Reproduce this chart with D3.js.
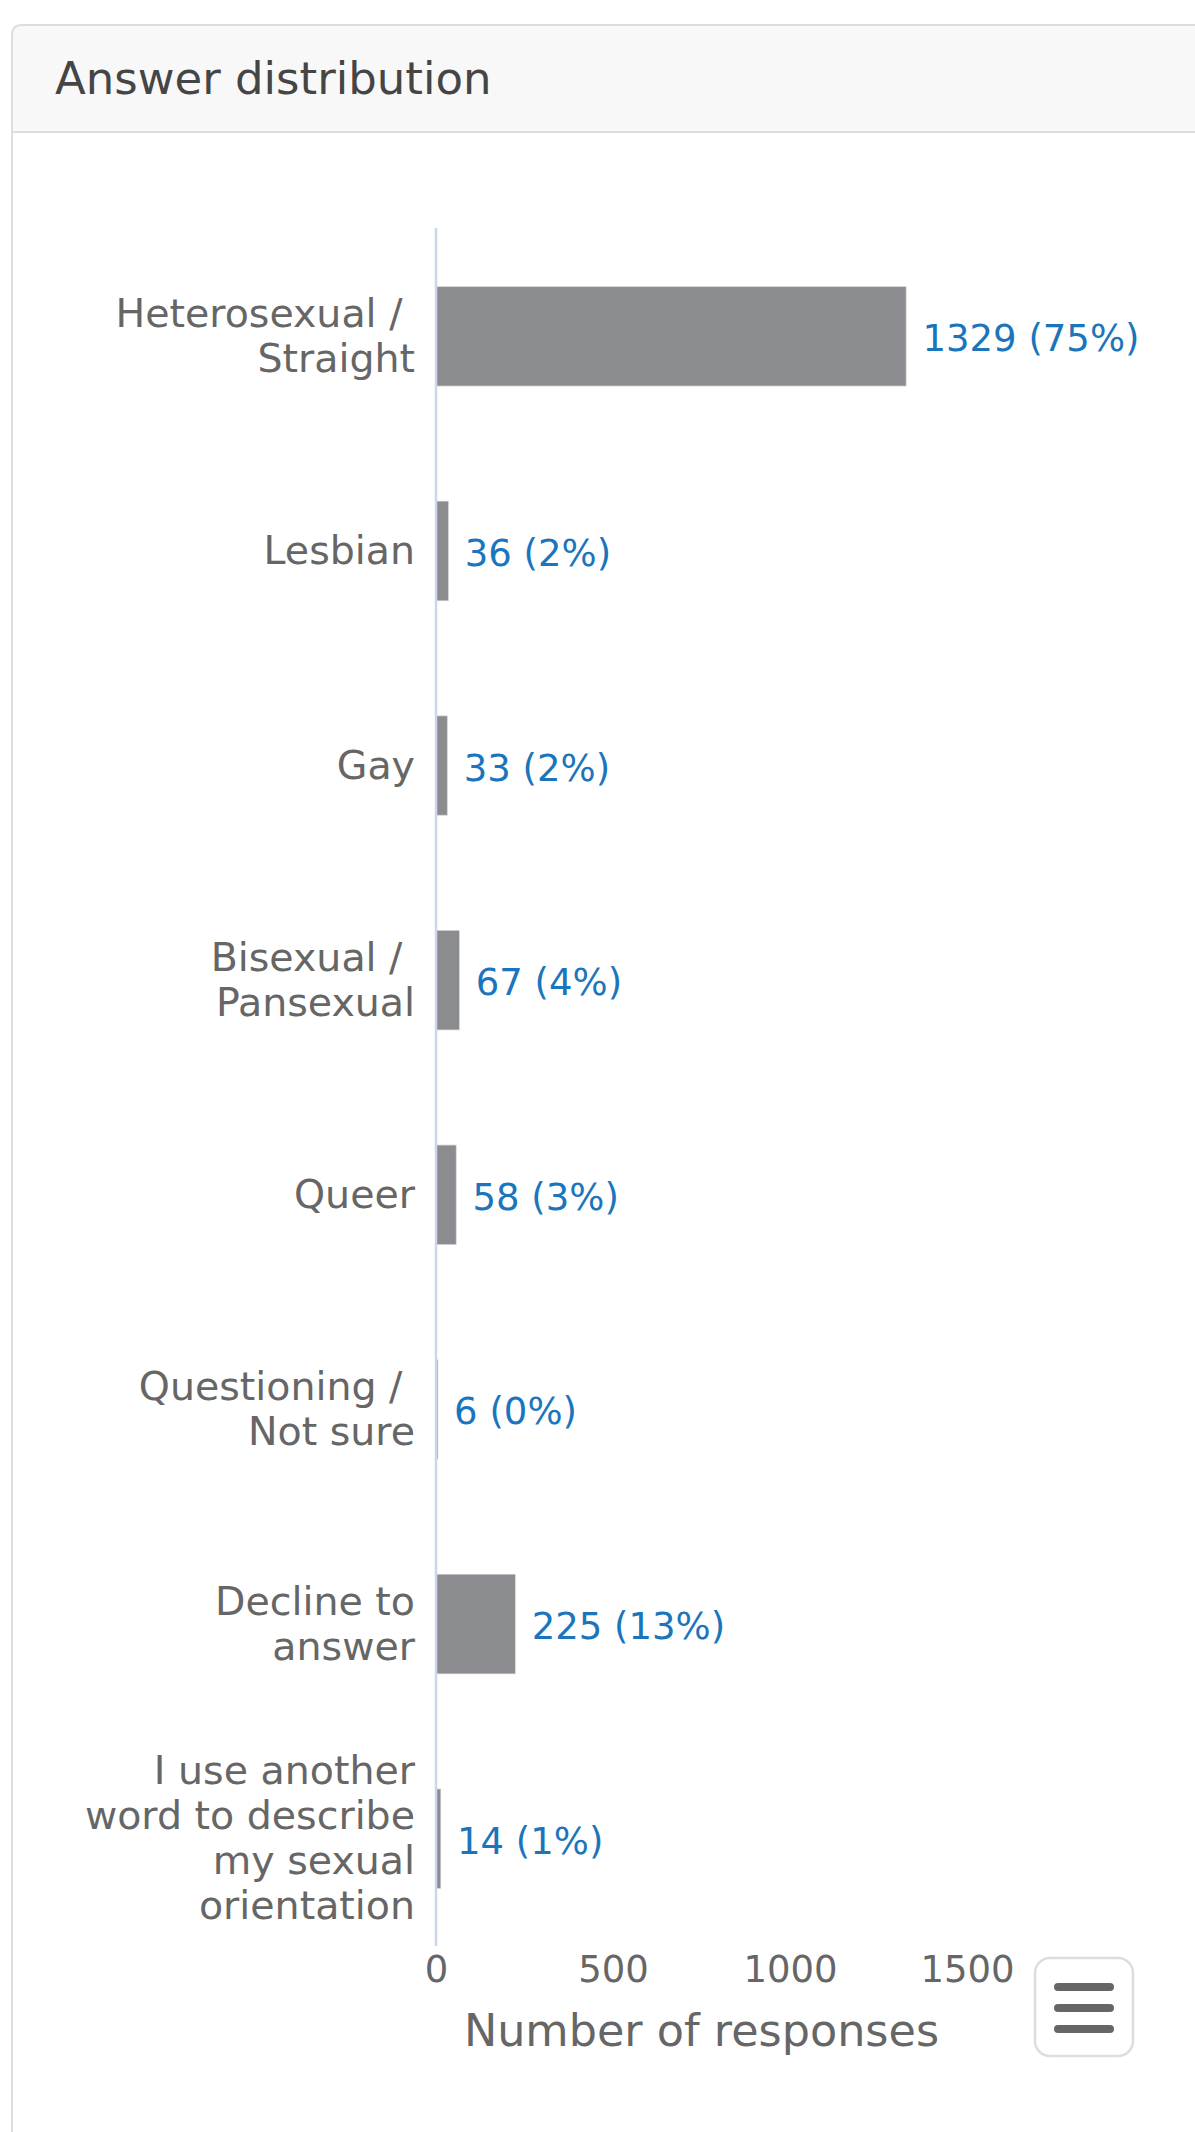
<!DOCTYPE html>
<html>
<head>
<meta charset="utf-8">
<script src="https://cdn.jsdelivr.net/npm/d3@7"></script>
<style>
  html, body { margin: 0; padding: 0; background: #ffffff; }
  svg { display: block; }
  text { font-family: "DejaVu Sans", "Noto Sans", sans-serif; }
</style>
</head>
<body>
<svg id="chart" width="1195" height="2132"></svg>
<script>
// ---- data ----
const categories = [
  ["Heterosexual / ", "Straight"],
  ["Lesbian"],
  ["Gay"],
  ["Bisexual / ", "Pansexual"],
  ["Queer"],
  ["Questioning / ", "Not sure"],
  ["Decline to", "answer"],
  ["I use another", "word to describe", "my sexual", "orientation"]
];
const categoryKeys = ["het", "les", "gay", "bi", "queer", "quest", "decline", "other"];
const counts = [1329, 36, 33, 67, 58, 6, 225, 14];
const percents = [75, 2, 2, 4, 3, 0, 13, 1];
const xTicks = [0, 500, 1000, 1500];
const titleText = "Answer distribution";
const axisTitle = "Number of responses";

// ---- layout ----
const svg = d3.select("#chart");
const W = 1195, H = 2132;
const plotLeft = 436, plotRight = 967, plotTop = 229, plotBottom = 1946;

// panel header
svg.append("path")
  .attr("d", `M12,132 L12,35 Q12,25 22,25 L${W + 10},25 L${W + 10},132 Z`)
  .attr("fill", "#f8f8f8")
  .attr("stroke", "#dddddd")
  .attr("stroke-width", 2);
svg.append("line")
  .attr("x1", 12).attr("x2", 12).attr("y1", 132).attr("y2", H + 10)
  .attr("stroke", "#dddddd").attr("stroke-width", 2);

svg.append("text")
  .attr("x", 55).attr("y", 94)
  .attr("font-size", 45)
  .attr("fill", "#454545")
  .text(titleText);

// scales
const x = d3.scaleLinear().domain([0, 1500]).range([plotLeft, plotRight]);
const y = d3.scaleBand().domain(categoryKeys).range([plotTop, plotBottom])
  .paddingInner(0.534).paddingOuter(0.267);

// bars
const g = svg.append("g");
g.selectAll("rect.bar")
  .data(counts)
  .join("rect")
  .attr("class", "bar")
  .attr("x", x(0))
  .attr("y", (d, i) => y(categoryKeys[i]))
  .attr("width", d => x(d) - x(0))
  .attr("height", y.bandwidth())
  .attr("fill", "#8b8c90")
  .attr("stroke", "#ffffff")
  .attr("stroke-opacity", 0.5)
  .attr("stroke-width", 1.5);

// y axis line
svg.append("line")
  .attr("x1", plotLeft).attr("x2", plotLeft)
  .attr("y1", plotTop - 1).attr("y2", plotBottom)
  .attr("stroke", "#ccd6eb").attr("stroke-width", 2.5);

// value labels
g.selectAll("text.val")
  .data(counts)
  .join("text")
  .attr("class", "val")
  .attr("x", d => x(d) + 16)
  .attr("y", (d, i) => y(categoryKeys[i]) + y.bandwidth() / 2 + 15)
  .attr("font-size", 37)
  .attr("fill", "#1b75bc")
  .text((d, i) => `${d} (${percents[i]}%)`);

// category labels
const lineH = 45;
const catG = svg.append("g");
categories.forEach((lines, i) => {
  const cy = y(categoryKeys[i]) + y.bandwidth() / 2;
  lines.forEach((ln, j) => {
    catG.append("text")
      .attr("text-anchor", "end")
      .attr("font-size", 39.5)
      .attr("fill", "#666666")
      .style("white-space", "pre")
      .attr("x", 415)
      .attr("y", cy + 13 + (j - (lines.length - 1) / 2) * lineH)
      .text(ln);
  });
});

// x axis
const xAxis = d3.axisBottom(x).tickValues(xTicks).tickFormat(d3.format("d"))
  .tickSize(0).tickPadding(0);
const ax = svg.append("g").attr("transform", `translate(0,${plotBottom})`).call(xAxis);
ax.select(".domain").remove();
ax.selectAll("text")
  .attr("y", 36).attr("dy", 0)
  .attr("font-size", 37)
  .attr("fill", "#666666")
  .style("font-family", "'DejaVu Sans', 'Noto Sans', sans-serif");

svg.append("text")
  .attr("x", (plotLeft + plotRight) / 2)
  .attr("y", 2046)
  .attr("text-anchor", "middle")
  .attr("font-size", 44.5)
  .attr("fill", "#666666")
  .text(axisTitle);

// menu button
const btn = svg.append("g");
btn.append("rect")
  .attr("x", 1035).attr("y", 1958).attr("width", 98).attr("height", 98)
  .attr("rx", 15).attr("ry", 15)
  .attr("fill", "#ffffff").attr("stroke", "#dddddd").attr("stroke-width", 2.5);
[1987, 2008, 2029].forEach(yy => {
  btn.append("line")
    .attr("x1", 1058).attr("x2", 1110).attr("y1", yy).attr("y2", yy)
    .attr("stroke", "#666666").attr("stroke-width", 8).attr("stroke-linecap", "round");
});
</script>
</body>
</html>
